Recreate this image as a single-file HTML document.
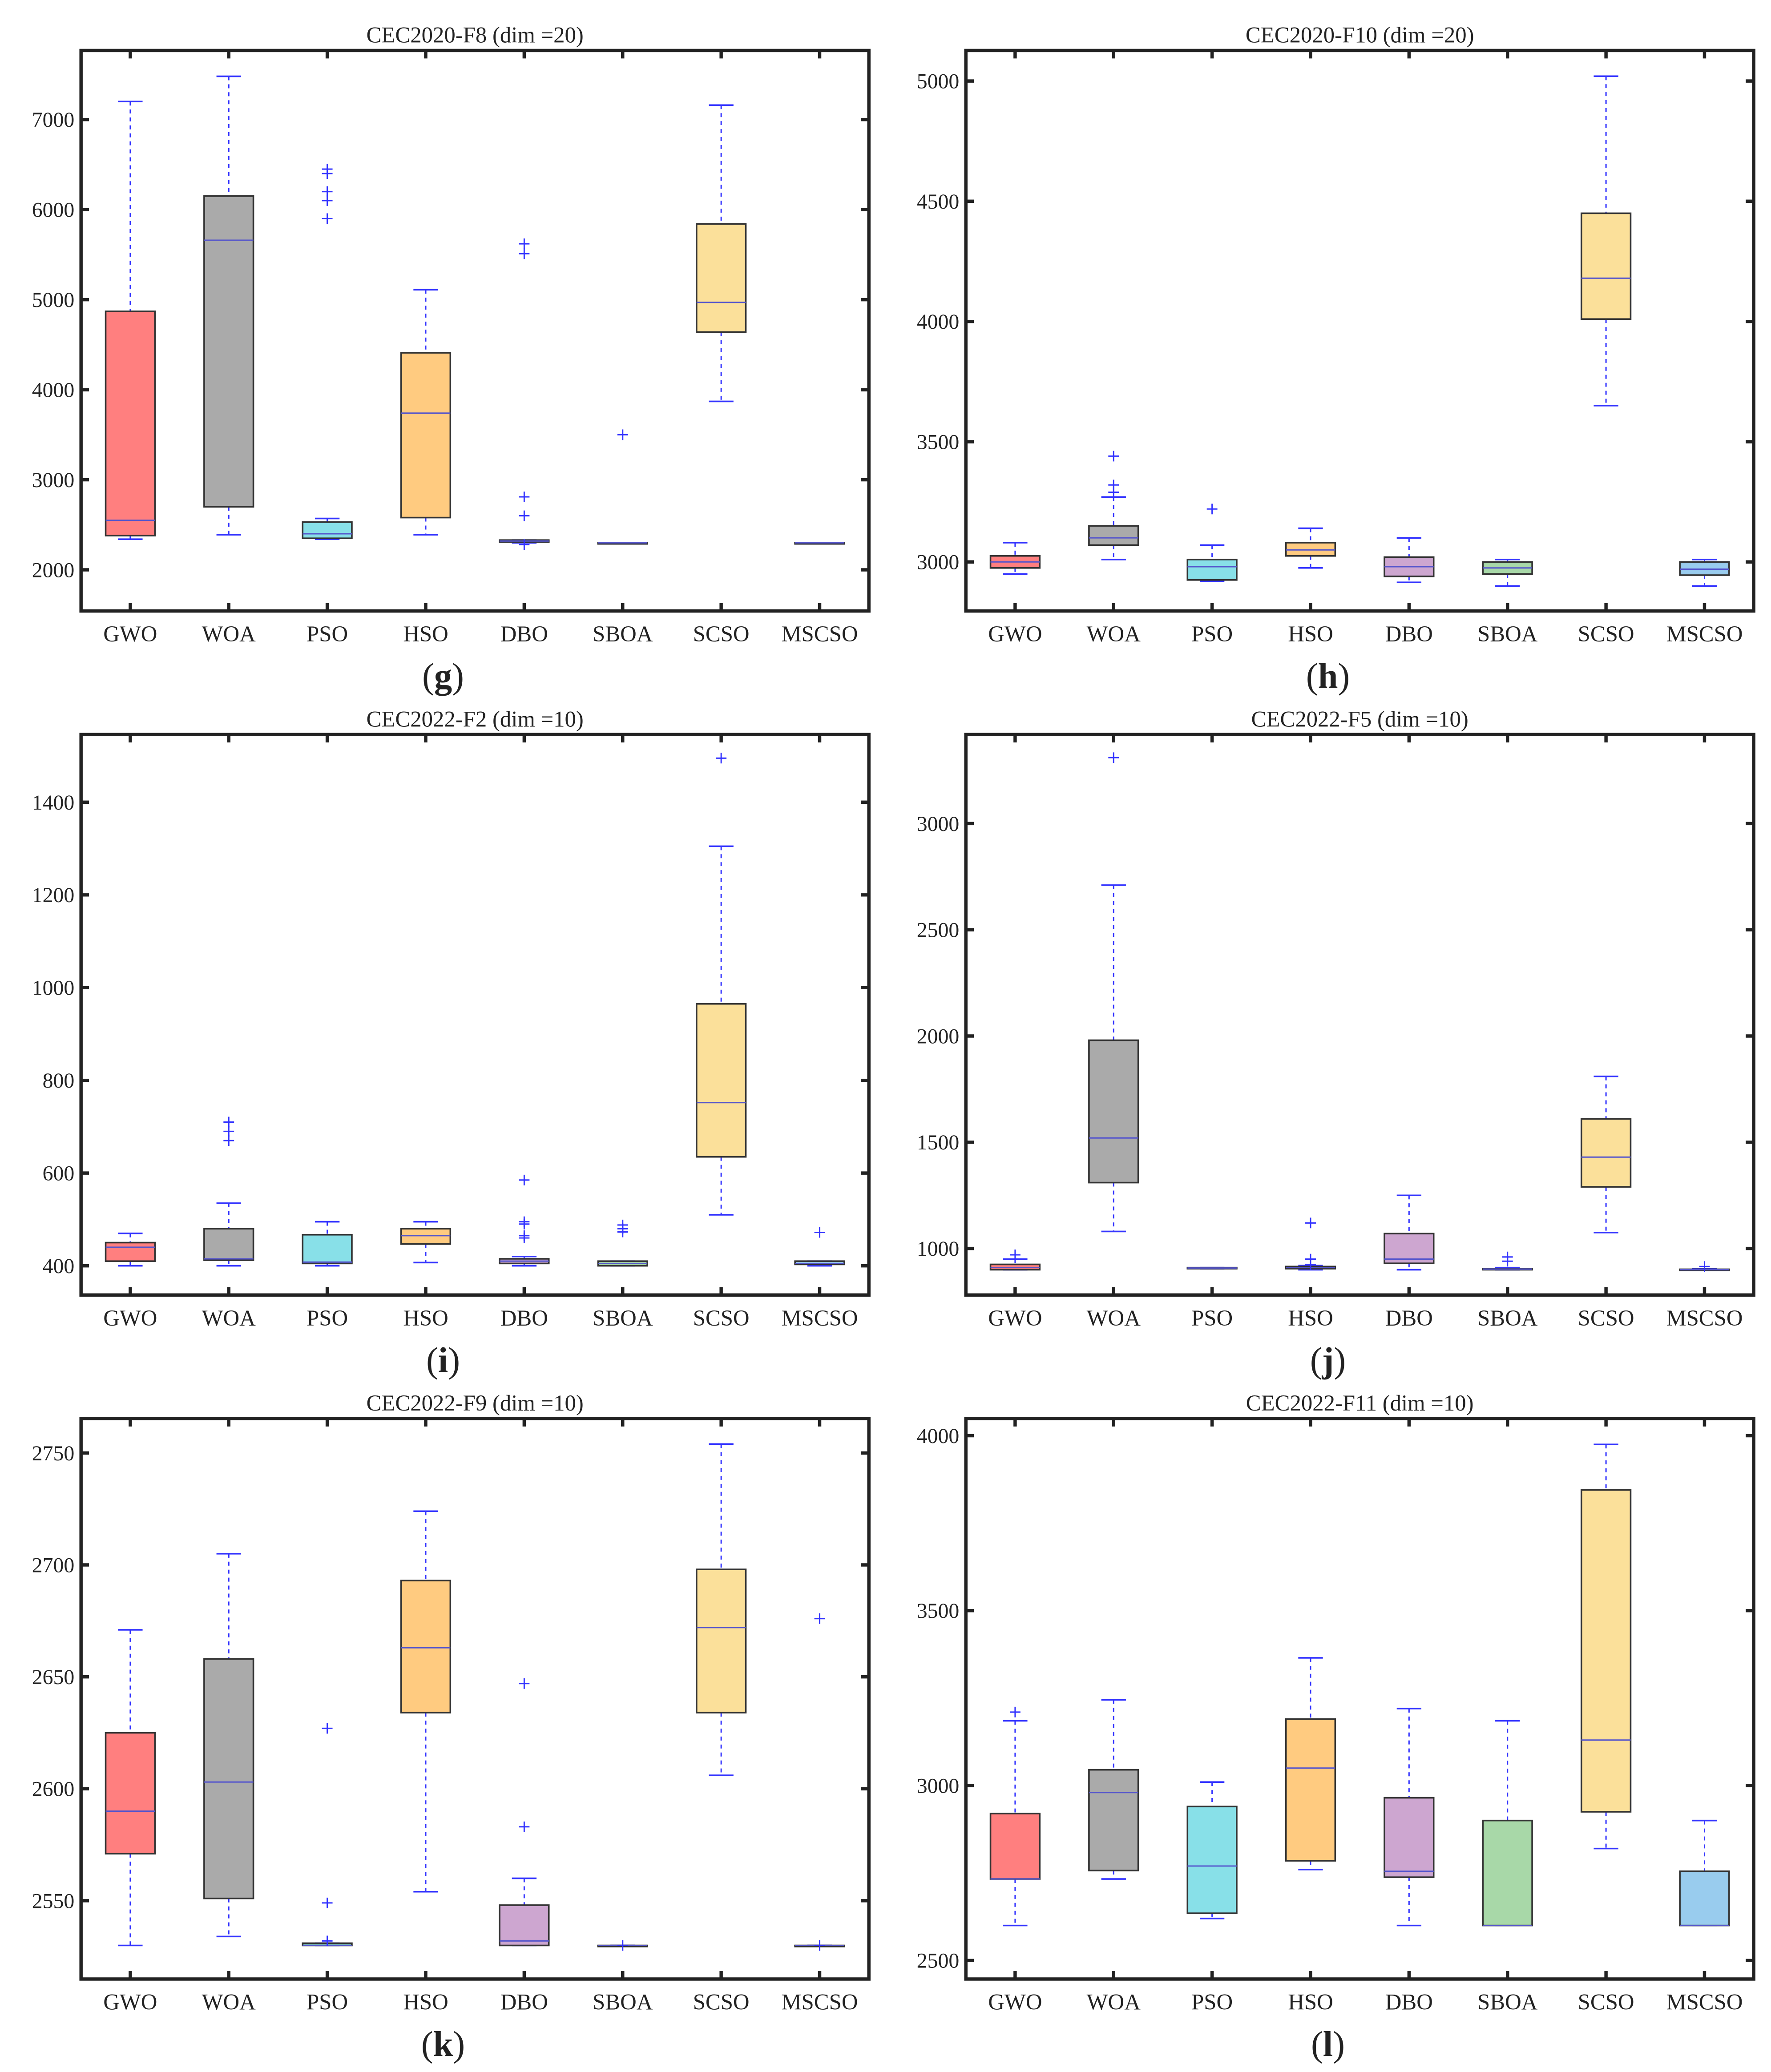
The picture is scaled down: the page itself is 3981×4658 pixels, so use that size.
<!DOCTYPE html>
<html><head><meta charset="utf-8"><style>
html,body{margin:0;padding:0;background:#fff}
svg{display:block}
text{font-family:"Liberation Serif",serif;fill:#222}
</style></head><body>
<svg id="fig" width="3981" height="4658" viewBox="0 0 1333 1560" preserveAspectRatio="none" xmlns="http://www.w3.org/2000/svg"></svg>
<script>
const categories = ["GWO","WOA","PSO","HSO","DBO","SBOA","SCSO","MSCSO"];
const colors = ["#ff7f7f","#aaaaaa","#88e0e8","#ffcb80","#cda6d0","#a8d8a8","#fbe09a","#99ccee"];
const titles = ["CEC2020-F8 (dim =20)","CEC2020-F10 (dim =20)","CEC2022-F2 (dim =10)","CEC2022-F5 (dim =10)","CEC2022-F9 (dim =10)","CEC2022-F11 (dim =10)"];
const letters = ["g","h","i","j","k","l"];
const yTicksG = [2000,3000,4000,5000,6000,7000];
const yTicksH = [3000,3500,4000,4500,5000];
const yTicksI = [400,600,800,1000,1200,1400];
const yTicksJ = [1000,1500,2000,2500,3000];
const yTicksK = [2550,2600,2650,2700,2750];
const yTicksL = [2500,3000,3500,4000];
const yRanges = [[1543,7767],[2796,5127],[337,1546],[781,3419],[2515,2765.4],[2447,4049]];
// each box: [lowWhisker, q1, median, q3, highWhisker]
const statsG = [[2340,2380,2550,4870,7200],[2390,2700,5660,6150,7480],[2340,2350,2400,2530,2570],[2390,2580,3740,4410,5110],[2300,2310,2320,2330,2330],[2300,2300,2300,2300,2300],[3870,4640,4970,5840,7160],[2300,2300,2300,2300,2300]];
const outliersG = [[],[],[6450,6400,6200,6100,5900],[],[5620,5510,2810,2600,2280],[3500],[],[]];
const statsH = [[2950,2975,3000,3025,3080],[3010,3070,3100,3150,3270],[2920,2925,2980,3010,3070],[2975,3025,3050,3080,3140],[2915,2940,2980,3020,3100],[2900,2950,2975,3000,3010],[3650,4010,4180,4450,5020],[2900,2945,2970,3000,3010]];
const outliersH = [[],[3440,3320,3290],[3220],[],[],[],[],[]];
const statsI = [[400,410,440,450,470],[400,412,415,480,535],[400,405,408,467,495],[407,447,465,480,495],[400,405,410,415,420],[400,400,405,410,410],[510,635,752,965,1305],[400,403,405,410,410]];
const outliersI = [[],[710,690,670],[],[],[585,495,490,465,460],[488,480,473],[1495],[472]];
const statsJ = [[900,900,910,925,950],[1080,1310,1520,1980,2710],[905,905,908,910,910],[900,905,910,915,920],[900,930,950,1070,1250],[900,900,903,905,910],[1075,1290,1430,1610,1810],[900,900,900,902,905]];
const outliersJ = [[970],[3310],[],[1120,950,925],[],[960,940],[],[915]];
const statsK = [[2530,2571,2590,2625,2671],[2534,2551,2603,2658,2705],[2530,2530,2530,2531,2531],[2554,2634,2663,2693,2724],[2530,2530,2532,2548,2560],[2530,2530,2530,2530,2530],[2606,2634,2672,2698,2754],[2530,2530,2530,2530,2530]];
const outliersK = [[],[],[2627,2549,2532],[],[2647,2583],[2530],[],[2676,2530]];
const statsL = [[2600,2733,2733,2920,3185],[2733,2757,2980,3045,3245],[2620,2635,2770,2940,3010],[2760,2785,3050,3190,3365],[2600,2738,2755,2965,3220],[2600,2600,2600,2900,3185],[2820,2925,3130,3845,3975],[2600,2600,2600,2755,2900]];
const outliersL = [[3210],[],[],[],[],[],[],[]];

const allTicks=[yTicksG,yTicksH,yTicksI,yTicksJ,yTicksK,yTicksL];
const allStats=[statsG,statsH,statsI,statsJ,statsK,statsL];
const allOut=[outliersG,outliersH,outliersI,outliersJ,outliersK,outliersL];
const NS="http://www.w3.org/2000/svg";
const svg=document.getElementById('fig');
function mk(tag,attrs,parent){const e=document.createElementNS(NS,tag);for(const k in attrs)e.setAttribute(k,attrs[k]);parent.appendChild(e);return e;}
const W=593,H=422;
for(let p=0;p<6;p++){
  const x0=(p%2===0)?61:727, y0=38+Math.floor(p/2)*515;
  const g=mk('g',{},svg);
  
  
  const [vmin,vmax]=yRanges[p];
  const ys=v=>y0+H-(v-vmin)/(vmax-vmin)*H;
  const xs=i=>x0+(i+0.5)*W/8;
  const t=mk('text',{x:x0+W/2,y:y0-6,'text-anchor':'middle','font-size':17},g);
  t.textContent=titles[p];
  
  
  // y ticks
  allTicks[p].forEach(v=>{
    const y=ys(v);
    const lb=mk('text',{x:x0-5,y:y+5.5,'text-anchor':'end','font-size':16},g);
    lb.textContent=v;
    
    
    mk('line',{x1:x0,x2:x0+6,y1:y,y2:y,stroke:'#222','stroke-width':2.5},g);
    mk('line',{x1:x0+W-6,x2:x0+W,y1:y,y2:y,stroke:'#222','stroke-width':2.5},g);
  });
  categories.forEach((c,i)=>{
    const x=xs(i);
    mk('line',{x1:x,x2:x,y1:y0,y2:y0+6,stroke:'#222','stroke-width':2.5},g);
    mk('line',{x1:x,x2:x,y1:y0+H-6,y2:y0+H,stroke:'#222','stroke-width':2.5},g);
    const lb=mk('text',{x:x,y:y0+H+23,'text-anchor':'middle','font-size':17},g);
    lb.textContent=c;
    
    
    const [lw,q1,md,q3,hw]=allStats[p][i];
    const bw=W/16, hb=bw/2;
    const box=mk('g',{},g);
    
    
    mk('line',{x1:x,x2:x,y1:ys(hw),y2:ys(q3),stroke:'#3333ff','stroke-width':1,'stroke-dasharray':'3,3'},box);
    mk('line',{x1:x,x2:x,y1:ys(q1),y2:ys(lw),stroke:'#3333ff','stroke-width':1,'stroke-dasharray':'3,3'},box);
    mk('line',{x1:x-hb/2,x2:x+hb/2,y1:ys(hw),y2:ys(hw),stroke:'#3333ff','stroke-width':1.2},box);
    mk('line',{x1:x-hb/2,x2:x+hb/2,y1:ys(lw),y2:ys(lw),stroke:'#3333ff','stroke-width':1.2},box);
    mk('rect',{x:x-hb,y:ys(q3),width:bw,height:Math.max(ys(q1)-ys(q3),0.8),fill:colors[i],stroke:'#333','stroke-width':1.2},box);
    mk('line',{x1:x-hb,x2:x+hb,y1:ys(md),y2:ys(md),stroke:'#5555cc','stroke-width':1},box);
    allOut[p][i].forEach(v=>{
      const y=ys(v);
      const o=mk('path',{d:`M${x-4} ${y}H${x+4}M${x} ${y-4}V${y+4}`,stroke:'#3333ff','stroke-width':1,fill:'none'},box);
      
      
    });
  });
  const fr=mk('rect',{x:x0,y:y0,width:W,height:H,fill:'none',stroke:'#222','stroke-width':2.5},g);
  
  
  const L=mk('text',{x:x0+W/2-24,y:y0+H+58,'text-anchor':'middle','font-size':27},g);
  L.innerHTML='(<tspan font-weight="bold">'+letters[p]+'</tspan>)';
  
  
}
</script>
</body></html>
